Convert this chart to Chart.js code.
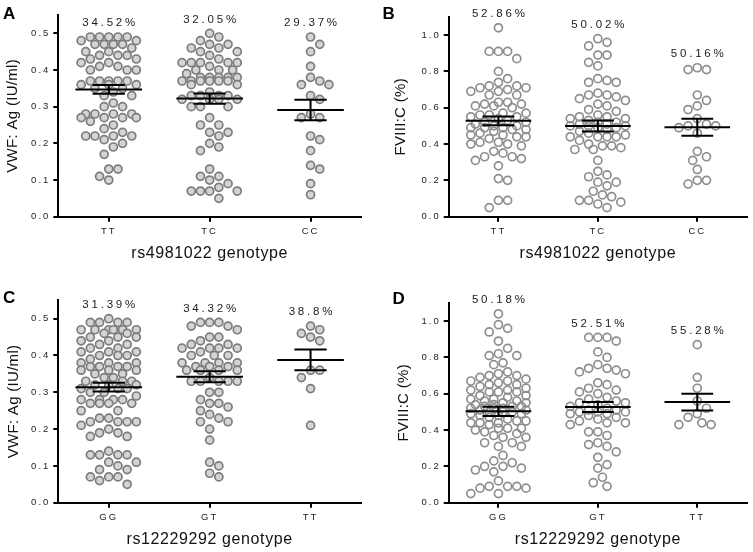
<!DOCTYPE html>
<html>
<head>
<meta charset="utf-8">
<script src="https://cdn.jsdelivr.net/npm/chart.js@4"></script>
<style>
  body { margin: 0; background: #fff; }
  #fig { position: relative; width: 753px; height: 552px; overflow: hidden; }
  #fig canvas { position: absolute; }
</style>
</head>
<body>
<div id="fig">
  <canvas id="panelA" width="376" height="276" style="left:0px;top:0px"></canvas>
  <canvas id="panelB" width="377" height="276" style="left:376px;top:0px"></canvas>
  <canvas id="panelC" width="376" height="276" style="left:0px;top:276px"></canvas>
  <canvas id="panelD" width="377" height="276" style="left:376px;top:276px"></canvas>
</div>
<script>
// genotype categories
const rs4981022Genotypes = ['TT', 'TC', 'CC'];
const rs12229292Genotypes = ['GG', 'GT', 'TT'];

// A: VWF:Ag by rs4981022
const vwfRs4981022TT = [0.49, 0.49, 0.49, 0.49, 0.49, 0.48, 0.48, 0.47, 0.47, 0.47, 0.47, 0.46, 0.45, 0.45, 0.44, 0.44, 0.44, 0.43, 0.43, 0.42, 0.42, 0.41, 0.41, 0.40, 0.40, 0.40, 0.37, 0.37, 0.37, 0.37, 0.37, 0.36, 0.36, 0.36, 0.35, 0.35, 0.34, 0.33, 0.33, 0.31, 0.30, 0.30, 0.28, 0.28, 0.28, 0.28, 0.27, 0.27, 0.27, 0.27, 0.26, 0.25, 0.24, 0.23, 0.22, 0.22, 0.22, 0.22, 0.21, 0.20, 0.19, 0.17, 0.13, 0.13, 0.11, 0.10];
const vwfRs4981022TC = [0.50, 0.49, 0.48, 0.47, 0.47, 0.46, 0.46, 0.45, 0.45, 0.44, 0.43, 0.42, 0.42, 0.42, 0.42, 0.42, 0.41, 0.40, 0.40, 0.40, 0.39, 0.38, 0.38, 0.38, 0.38, 0.38, 0.37, 0.37, 0.37, 0.37, 0.37, 0.37, 0.36, 0.36, 0.34, 0.33, 0.33, 0.33, 0.33, 0.32, 0.32, 0.32, 0.32, 0.30, 0.30, 0.30, 0.27, 0.25, 0.25, 0.23, 0.23, 0.22, 0.20, 0.19, 0.18, 0.13, 0.11, 0.11, 0.10, 0.09, 0.08, 0.07, 0.07, 0.07, 0.07, 0.05];
const vwfRs4981022CC = [0.49, 0.47, 0.45, 0.41, 0.38, 0.37, 0.36, 0.36, 0.33, 0.32, 0.28, 0.27, 0.27, 0.22, 0.21, 0.18, 0.14, 0.13, 0.09, 0.06];
const vwfRs4981022Mean = [0.347, 0.322, 0.291];
const vwfRs4981022Sem = [0.012, 0.014, 0.028];
const vwfRs4981022Pct = ['34.52%', '32.05%', '29.37%'];

// B: FVIII:C by rs4981022
const fviiiRs4981022TT = [1.04, 0.91, 0.91, 0.91, 0.87, 0.80, 0.76, 0.74, 0.72, 0.72, 0.71, 0.71, 0.70, 0.69, 0.69, 0.67, 0.67, 0.63, 0.63, 0.62, 0.62, 0.61, 0.61, 0.60, 0.57, 0.57, 0.56, 0.56, 0.55, 0.55, 0.54, 0.53, 0.52, 0.52, 0.51, 0.50, 0.50, 0.49, 0.49, 0.49, 0.48, 0.48, 0.47, 0.46, 0.45, 0.45, 0.44, 0.44, 0.43, 0.41, 0.41, 0.40, 0.40, 0.39, 0.36, 0.35, 0.33, 0.33, 0.32, 0.31, 0.28, 0.21, 0.20, 0.09, 0.09, 0.05];
const fviiiRs4981022TC = [0.98, 0.96, 0.94, 0.89, 0.89, 0.85, 0.83, 0.76, 0.75, 0.74, 0.74, 0.68, 0.67, 0.67, 0.66, 0.65, 0.64, 0.62, 0.61, 0.59, 0.58, 0.56, 0.55, 0.55, 0.54, 0.54, 0.53, 0.52, 0.52, 0.51, 0.51, 0.50, 0.50, 0.50, 0.49, 0.49, 0.48, 0.47, 0.46, 0.45, 0.44, 0.44, 0.44, 0.44, 0.42, 0.40, 0.39, 0.39, 0.38, 0.37, 0.37, 0.31, 0.25, 0.23, 0.22, 0.19, 0.19, 0.17, 0.14, 0.12, 0.11, 0.09, 0.09, 0.08, 0.07, 0.05];
const fviiiRs4981022CC = [0.82, 0.81, 0.81, 0.67, 0.64, 0.61, 0.59, 0.54, 0.51, 0.50, 0.50, 0.49, 0.46, 0.36, 0.33, 0.31, 0.26, 0.20, 0.20, 0.18];
const fviiiRs4981022Mean = [0.528, 0.499, 0.492];
const fviiiRs4981022Sem = [0.024, 0.030, 0.047];
const fviiiRs4981022Pct = ['52.86%', '50.02%', '50.16%'];

// C: VWF:Ag by rs12229292
const vwfRs12229292GG = [0.50, 0.49, 0.49, 0.49, 0.49, 0.47, 0.47, 0.47, 0.47, 0.47, 0.47, 0.46, 0.46, 0.45, 0.45, 0.45, 0.44, 0.44, 0.43, 0.43, 0.42, 0.42, 0.41, 0.41, 0.41, 0.40, 0.40, 0.40, 0.39, 0.38, 0.38, 0.38, 0.37, 0.37, 0.37, 0.37, 0.36, 0.36, 0.36, 0.35, 0.35, 0.34, 0.34, 0.33, 0.33, 0.33, 0.32, 0.32, 0.32, 0.31, 0.31, 0.31, 0.30, 0.30, 0.29, 0.28, 0.28, 0.28, 0.28, 0.27, 0.27, 0.27, 0.27, 0.25, 0.25, 0.23, 0.23, 0.22, 0.22, 0.22, 0.22, 0.21, 0.20, 0.19, 0.19, 0.18, 0.18, 0.14, 0.13, 0.13, 0.13, 0.13, 0.11, 0.11, 0.10, 0.09, 0.09, 0.07, 0.07, 0.07, 0.06, 0.05];
const vwfRs12229292GT = [0.49, 0.49, 0.49, 0.48, 0.48, 0.47, 0.45, 0.45, 0.44, 0.43, 0.43, 0.42, 0.42, 0.42, 0.42, 0.41, 0.40, 0.40, 0.40, 0.38, 0.38, 0.38, 0.38, 0.37, 0.37, 0.37, 0.36, 0.36, 0.36, 0.36, 0.34, 0.33, 0.33, 0.33, 0.33, 0.33, 0.30, 0.30, 0.28, 0.27, 0.27, 0.26, 0.25, 0.24, 0.23, 0.22, 0.22, 0.20, 0.17, 0.11, 0.10, 0.08, 0.07];
const vwfRs12229292TT = [0.48, 0.47, 0.46, 0.45, 0.44, 0.36, 0.36, 0.34, 0.31, 0.21];
const vwfRs12229292Mean = [0.314, 0.342, 0.388];
const vwfRs12229292Sem = [0.012, 0.015, 0.028];
const vwfRs12229292Pct = ['31.39%', '34.32%', '38.8%'];

// D: FVIII:C by rs12229292
const fviiiRs12229292GG = [1.04, 0.98, 0.96, 0.94, 0.89, 0.85, 0.82, 0.81, 0.81, 0.77, 0.76, 0.72, 0.71, 0.70, 0.70, 0.69, 0.68, 0.67, 0.67, 0.66, 0.65, 0.65, 0.64, 0.63, 0.62, 0.62, 0.61, 0.61, 0.61, 0.59, 0.59, 0.58, 0.57, 0.57, 0.56, 0.56, 0.55, 0.55, 0.54, 0.54, 0.53, 0.53, 0.53, 0.52, 0.52, 0.52, 0.51, 0.51, 0.50, 0.50, 0.50, 0.49, 0.49, 0.48, 0.48, 0.47, 0.46, 0.45, 0.45, 0.44, 0.44, 0.44, 0.43, 0.41, 0.41, 0.41, 0.40, 0.39, 0.38, 0.37, 0.36, 0.36, 0.33, 0.33, 0.31, 0.31, 0.26, 0.23, 0.22, 0.20, 0.20, 0.19, 0.18, 0.17, 0.12, 0.09, 0.09, 0.09, 0.08, 0.08, 0.05, 0.05];
const fviiiRs12229292GT = [0.91, 0.91, 0.91, 0.89, 0.83, 0.80, 0.76, 0.74, 0.74, 0.73, 0.72, 0.71, 0.66, 0.65, 0.63, 0.62, 0.61, 0.60, 0.58, 0.57, 0.56, 0.55, 0.55, 0.54, 0.53, 0.52, 0.51, 0.51, 0.50, 0.50, 0.50, 0.49, 0.49, 0.48, 0.47, 0.46, 0.45, 0.44, 0.44, 0.43, 0.39, 0.39, 0.37, 0.33, 0.32, 0.31, 0.28, 0.25, 0.21, 0.19, 0.14, 0.11, 0.09];
const fviiiRs12229292TT = [0.87, 0.69, 0.63, 0.56, 0.52, 0.49, 0.47, 0.44, 0.43, 0.43];
const fviiiRs12229292Mean = [0.503, 0.527, 0.554];
const fviiiRs12229292Sem = [0.025, 0.028, 0.046];
const fviiiRs12229292Pct = ['50.18%', '52.51%', '55.28%'];

Chart.defaults.font.family = '"Liberation Sans", Arial, Helvetica, sans-serif';

const panels = [
  { id: 'panelA', letter: 'A', cats: rs4981022Genotypes, groups: [vwfRs4981022TT, vwfRs4981022TC, vwfRs4981022CC],
    means: vwfRs4981022Mean, sems: vwfRs4981022Sem, pct: vwfRs4981022Pct, yMax: 0.55, yStep: 0.1,
    yTitle: 'VWF: Ag (IU/ml)', xTitle: 'rs4981022 genotype', filled: true,
    yAxisW: 58.3, padRight: 15, top: 15, bottom: 216.7, yTitleX: 13.3, letterX: 3, letterY: 18.5 },
  { id: 'panelB', letter: 'B', cats: rs4981022Genotypes, groups: [fviiiRs4981022TT, fviiiRs4981022TC, fviiiRs4981022CC],
    means: fviiiRs4981022Mean, sems: fviiiRs4981022Sem, pct: fviiiRs4981022Pct, yMax: 1.1, yStep: 0.2,
    yTitle: 'FVIII:C (%)', xTitle: 'rs4981022 genotype', filled: false,
    yAxisW: 72.7, padRight: 6, top: 16.9, bottom: 216.7, yTitleX: 25, letterX: 6.5, letterY: 18.5 },
  { id: 'panelC', letter: 'C', cats: rs12229292Genotypes, groups: [vwfRs12229292GG, vwfRs12229292GT, vwfRs12229292TT],
    means: vwfRs12229292Mean, sems: vwfRs12229292Sem, pct: vwfRs12229292Pct, yMax: 0.55, yStep: 0.1,
    yTitle: 'VWF: Ag (IU/ml)', xTitle: 'rs12229292 genotype', filled: true,
    yAxisW: 58.3, padRight: 15, top: 24.3, bottom: 226.7, yTitleX: 14, letterX: 3, letterY: 26.7 },
  { id: 'panelD', letter: 'D', cats: rs12229292Genotypes, groups: [fviiiRs12229292GG, fviiiRs12229292GT, fviiiRs12229292TT],
    means: fviiiRs12229292Mean, sems: fviiiRs12229292Sem, pct: fviiiRs12229292Pct, yMax: 1.1, yStep: 0.2,
    yTitle: 'FVIII:C (%)', xTitle: 'rs12229292 genotype', filled: false,
    yAxisW: 72.7, padRight: 6, top: 26.9, bottom: 226.7, yTitleX: 28, letterX: 16.5, letterY: 28.3 },
];

// mean line + SEM whisker with caps, gaps (null y) between segments
function errorBarData(means, sems) {
  const out = [];
  means.forEach((m, g) => {
    const s = sems[g];
    out.push({ x: g - 0.33, y: m }, { x: g + 0.33, y: m }, { x: g, y: null });
    out.push({ x: g - 0.16, y: m + s }, { x: g + 0.16, y: m + s }, { x: g, y: null });
    out.push({ x: g - 0.16, y: m - s }, { x: g + 0.16, y: m - s }, { x: g, y: null });
    out.push({ x: g, y: m - s }, { x: g, y: m + s }, { x: g, y: null });
  });
  return out;
}

// simple beeswarm: pixel x offsets so dots don't overlap (within a width limit)
function swarm(vals, toPx) {
  const d = 9.2, lim = 29, step = d / 2;
  const placed = [];
  const offs = new Array(vals.length).fill(0);
  const order = vals.map((v, i) => i).sort((a, b) => vals[b] - vals[a]);
  order.forEach(i => {
    const py = toPx(vals[i]);
    let best = 0, bestCost = Infinity;
    for (let k = 0; k * step <= lim && bestCost > 0; k++) {
      for (const dx of (k === 0 ? [0] : [k * step, -k * step])) {
        let cost = 0;
        placed.forEach(p => {
          const dist = Math.hypot(p.x - dx, p.y - py);
          if (dist < d) cost += d - dist;
        });
        if (cost < bestCost) { best = dx; bestCost = cost; }
        if (cost === 0) break;
      }
    }
    placed.push({ x: best, y: py });
    offs[i] = best;
  });
  return offs;
}

// letter spacing for tick labels and axis titles (canvas has no option for it in Chart.js)
function spaceText(scale, name, spacing) {
  const orig = scale[name];
  scale[name] = function (...args) {
    const ctx = this.ctx;
    const old = ctx.letterSpacing;
    ctx.letterSpacing = spacing;
    orig.apply(this, args);
    ctx.letterSpacing = old;
  };
}

function makePanel(p) {
  const H = 276;
  const lh = 16 * 1.2;
  const annotations = {
    id: 'annotations',
    beforeDraw(chart) {
      Object.values(chart.scales).forEach(s => {
        if (s._spaced) return;
        s._spaced = true;
        spaceText(s, 'drawLabels', '2px');
        spaceText(s, 'drawTitle', s.isHorizontal() ? '0.6px' : '0.3px');
      });
    },
    afterDatasetsDraw(chart) {
      const { ctx, scales: { x, y } } = chart;
      ctx.save();
      ctx.font = '11.5px "Liberation Sans", Arial, sans-serif';
      ctx.fillStyle = '#222';
      ctx.textAlign = 'center';
      ctx.textBaseline = 'middle';
      ctx.letterSpacing = '2.8px';
      p.groups.forEach((vals, g) => {
        const top = Math.max(...vals);
        ctx.fillText(p.pct[g], x.getPixelForValue(g) + 1.4, y.getPixelForValue(top) - 14);
      });
      ctx.restore();
    },
    afterDraw(chart) {
      const ctx = chart.ctx;
      ctx.save();
      ctx.font = 'bold 17px "Liberation Sans", Arial, sans-serif';
      ctx.fillStyle = '#000';
      ctx.textBaseline = 'alphabetic';
      ctx.fillText(p.letter, p.letterX, p.letterY);
      ctx.restore();
    }
  };

  const chart = new Chart(document.getElementById(p.id), {
    type: 'scatter',
    data: {
      datasets: [
        {
          label: 'mean ± SEM',
          data: errorBarData(p.means, p.sems),
          showLine: true,
          spanGaps: false,
          borderColor: '#000',
          borderWidth: 2,
          pointRadius: 0,
          order: 0,
          clip: false
        },
        {
          label: 'subjects',
          data: [],
          pointRadius: 4,
          borderWidth: 1.7,
          backgroundColor: p.filled ? '#d4d4d4' : 'rgba(255,255,255,0)',
          borderColor: p.filled ? '#7c7c7c' : '#8e8e8e',
          order: 1,
          clip: false
        }
      ]
    },
    options: {
      responsive: false,
      animation: false,
      events: [],
      layout: { padding: { left: 0, right: p.padRight, top: p.top, bottom: 0 } },
      plugins: { legend: { display: false }, tooltip: { enabled: false } },
      scales: {
        x: {
          type: 'linear',
          min: -0.5,
          max: 2.5,
          afterFit: s => { s.height = H - p.bottom; },
          afterBuildTicks: s => { s.ticks = p.cats.map((c, i) => ({ value: i })); },
          grid: { drawOnChartArea: false, tickLength: 5, color: '#000', lineWidth: 2 },
          border: { color: '#000', width: 2 },
          ticks: { padding: 4, maxRotation: 0, autoSkip: false, color: '#222', font: { size: 9.5 }, callback: v => p.cats[v] },
          title: { display: true, text: p.xTitle, color: '#111', font: { size: 16 },
                   padding: { top: 0, bottom: H - (p.bottom + 36.6) - lh / 2 } }
        },
        y: {
          type: 'linear',
          min: 0,
          max: p.yMax,
          afterFit: s => { s.width = p.yAxisW; },
          grid: { drawOnChartArea: false, tickLength: 5, color: '#000', lineWidth: 2 },
          border: { color: '#000', width: 2 },
          ticks: { stepSize: p.yStep, includeBounds: false, padding: 3, color: '#222', font: { size: 9.5 }, callback: v => v.toFixed(1) },
          title: { display: true, text: p.yTitle, color: '#111', font: { size: 15 },
                   padding: { top: p.yTitleX - 15 * 1.2 / 2, bottom: 0 } }
        }
      }
    },
    plugins: [annotations]
  });

  // lay the dots out as a beeswarm using the chart's own scales
  const xs = chart.scales.x, ys = chart.scales.y;
  const unit = xs.getPixelForValue(1) - xs.getPixelForValue(0);
  const pts = [];
  p.groups.forEach((vals, g) => {
    const offs = swarm(vals, v => ys.getPixelForValue(v));
    vals.forEach((v, i) => pts.push({ x: g + offs[i] / unit, y: v }));
  });
  chart.data.datasets[1].data = pts;
  chart.update('none');
}

panels.forEach(makePanel);
</script>
</body>
</html>
